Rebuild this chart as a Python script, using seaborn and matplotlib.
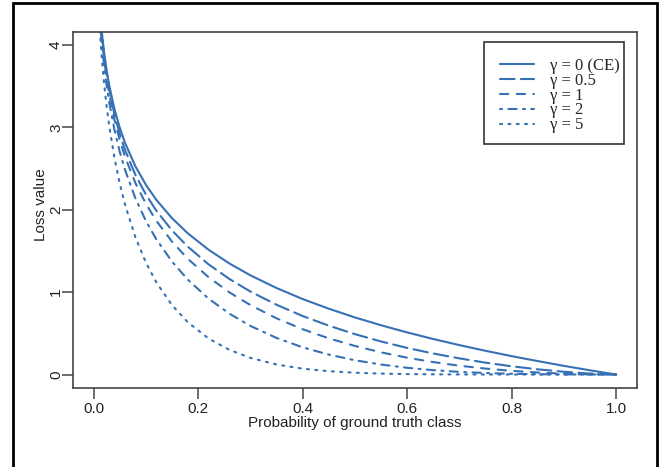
import matplotlib
matplotlib.use("Agg")
import matplotlib.pyplot as plt
from matplotlib.patches import Rectangle
import seaborn as sns
import pandas as pd

# ---- data ----
p = [0.01, 0.015, 0.02, 0.025, 0.03, 0.04, 0.05, 0.06, 0.08, 0.10, 0.12, 0.15,
     0.18, 0.22, 0.26, 0.30, 0.35, 0.40, 0.45, 0.50, 0.55, 0.60, 0.65, 0.70,
     0.75, 0.80, 0.85, 0.90, 0.95, 1.00]

loss_g0 = [4.605, 4.200, 3.912, 3.689, 3.507, 3.219, 2.996, 2.813, 2.526, 2.303,
           2.120, 1.897, 1.715, 1.514, 1.347, 1.204, 1.050, 0.916, 0.799, 0.693,
           0.598, 0.511, 0.431, 0.357, 0.288, 0.223, 0.163, 0.105, 0.051, 0.0]
loss_g05 = [4.582, 4.168, 3.873, 3.643, 3.454, 3.154, 2.920, 2.727, 2.423, 2.185,
            1.989, 1.749, 1.553, 1.337, 1.159, 1.007, 0.847, 0.710, 0.593, 0.490,
            0.401, 0.323, 0.255, 0.196, 0.144, 0.0998, 0.0631, 0.0333, 0.0115, 0.0]
loss_g1 = [4.559, 4.137, 3.834, 3.597, 3.402, 3.090, 2.846, 2.644, 2.324, 2.073,
           1.866, 1.613, 1.406, 1.181, 0.997, 0.843, 0.682, 0.550, 0.439, 0.347,
           0.269, 0.204, 0.151, 0.107, 0.072, 0.0446, 0.0244, 0.0105, 0.0026, 0.0]
loss_g2 = [4.513, 4.075, 3.757, 3.507, 3.300, 2.967, 2.704, 2.486, 2.138, 1.865,
           1.642, 1.371, 1.153, 0.921, 0.738, 0.590, 0.444, 0.330, 0.242, 0.173,
           0.121, 0.0818, 0.0528, 0.0321, 0.0180, 0.0089, 0.0037, 0.0011, 0.0001, 0.0]
loss_g5 = [4.379, 3.894, 3.536, 3.250, 3.012, 2.625, 2.318, 2.064, 1.665, 1.360,
           1.119, 0.842, 0.636, 0.437, 0.299, 0.202, 0.122, 0.0712, 0.0402, 0.0217,
           0.0110, 0.0052, 0.0023, 0.0009, 0.0003, 0.0001, 0.0, 0.0, 0.0, 0.0]

labels = ["γ = 0 (CE)", "γ = 0.5", "γ = 1", "γ = 2", "γ = 5"]
series = [loss_g0, loss_g05, loss_g1, loss_g2, loss_g5]
x_ticks = [0.0, 0.2, 0.4, 0.6, 0.8, 1.0]
x_ticklabels = ["0.0", "0.2", "0.4", "0.6", "0.8", "1.0"]
y_ticks = [0, 1, 2, 3, 4]
y_ticklabels = ["0", "1", "2", "3", "4"]

# ---- styling ----
sns.set_style("white")
plt.rcParams["font.family"] = ["Liberation Sans", "DejaVu Sans"]

color = "#3670b5"
styles = ["-", (0, (7, 3)), (0, (4, 4)), (0, (1, 3, 4, 3)), (0, (1, 3))]

fig = plt.figure(figsize=(6.61, 4.67), dpi=100)
W, H = 661, 467
ax = fig.add_axes([72.7 / W, 1 - 387.7 / H, (637 - 72.7) / W, (387.7 - 31.7) / H])

for lab, vals, ls in zip(labels, series, styles):
    df = pd.DataFrame({"p": p, "loss": vals})
    sns.lineplot(data=df, x="p", y="loss", ax=ax, color=color, linestyle=ls,
                 linewidth=1.5, label=lab, sort=False, estimator=None,
                 dash_capstyle="round", solid_capstyle="round")

ax.set_xlim(-0.04, 1.04)
ax.set_ylim(-0.16, 4.16)

ax.set_xticks(x_ticks)
ax.set_xticklabels(x_ticklabels)
ax.set_yticks(y_ticks)
ax.set_yticklabels(y_ticklabels, rotation=90, va="center")

spine_col = "#444444"
for s in ax.spines.values():
    s.set_color(spine_col)
    s.set_linewidth(1.2)
ax.tick_params(axis="both", direction="out", length=8, width=1.1, color=spine_col,
               labelsize=11, labelcolor="#222222")
ax.tick_params(axis="x", pad=2.0, bottom=True)
ax.tick_params(axis="y", pad=-1.0, left=True)

ax.set_xlabel("Probability of ground truth class", fontsize=11, color="#222222")
ax.set_ylabel("Loss value", fontsize=11, color="#222222")
ax.xaxis.set_label_coords(0.5, -0.099)
ax.xaxis.label.set_va("center")
ax.yaxis.set_label_coords(-0.057, 0.513)
ax.yaxis.label.set_va("center")

# legend entries (frame drawn separately to match the reference box)
leg = ax.legend(loc="upper left", bbox_to_anchor=(500 / W, 1 - 58 / H),
                bbox_transform=fig.transFigure, borderaxespad=0,
                prop={"family": ["Liberation Serif", "DejaVu Serif"], "size": 12},
                frameon=False, handlelength=2.05, handletextpad=0.96,
                labelspacing=-0.07, borderpad=0)
leg.set_zorder(10)
ax.add_patch(Rectangle((484 / W, 1 - 144 / H), (624 - 484) / W, (144 - 42) / H,
                       transform=fig.transFigure, fill=True, facecolor="white",
                       edgecolor="#333333", linewidth=1.2, zorder=9, clip_on=False))

# outer border (bottom edge lies outside the image)
fig.patches.append(Rectangle((13.5 / W, -0.05), (657 - 13.5) / W, 1.05 - 3 / H,
                             transform=fig.transFigure, fill=False,
                             edgecolor="black", linewidth=2.0))

fig.savefig("out.png", dpi=100)
